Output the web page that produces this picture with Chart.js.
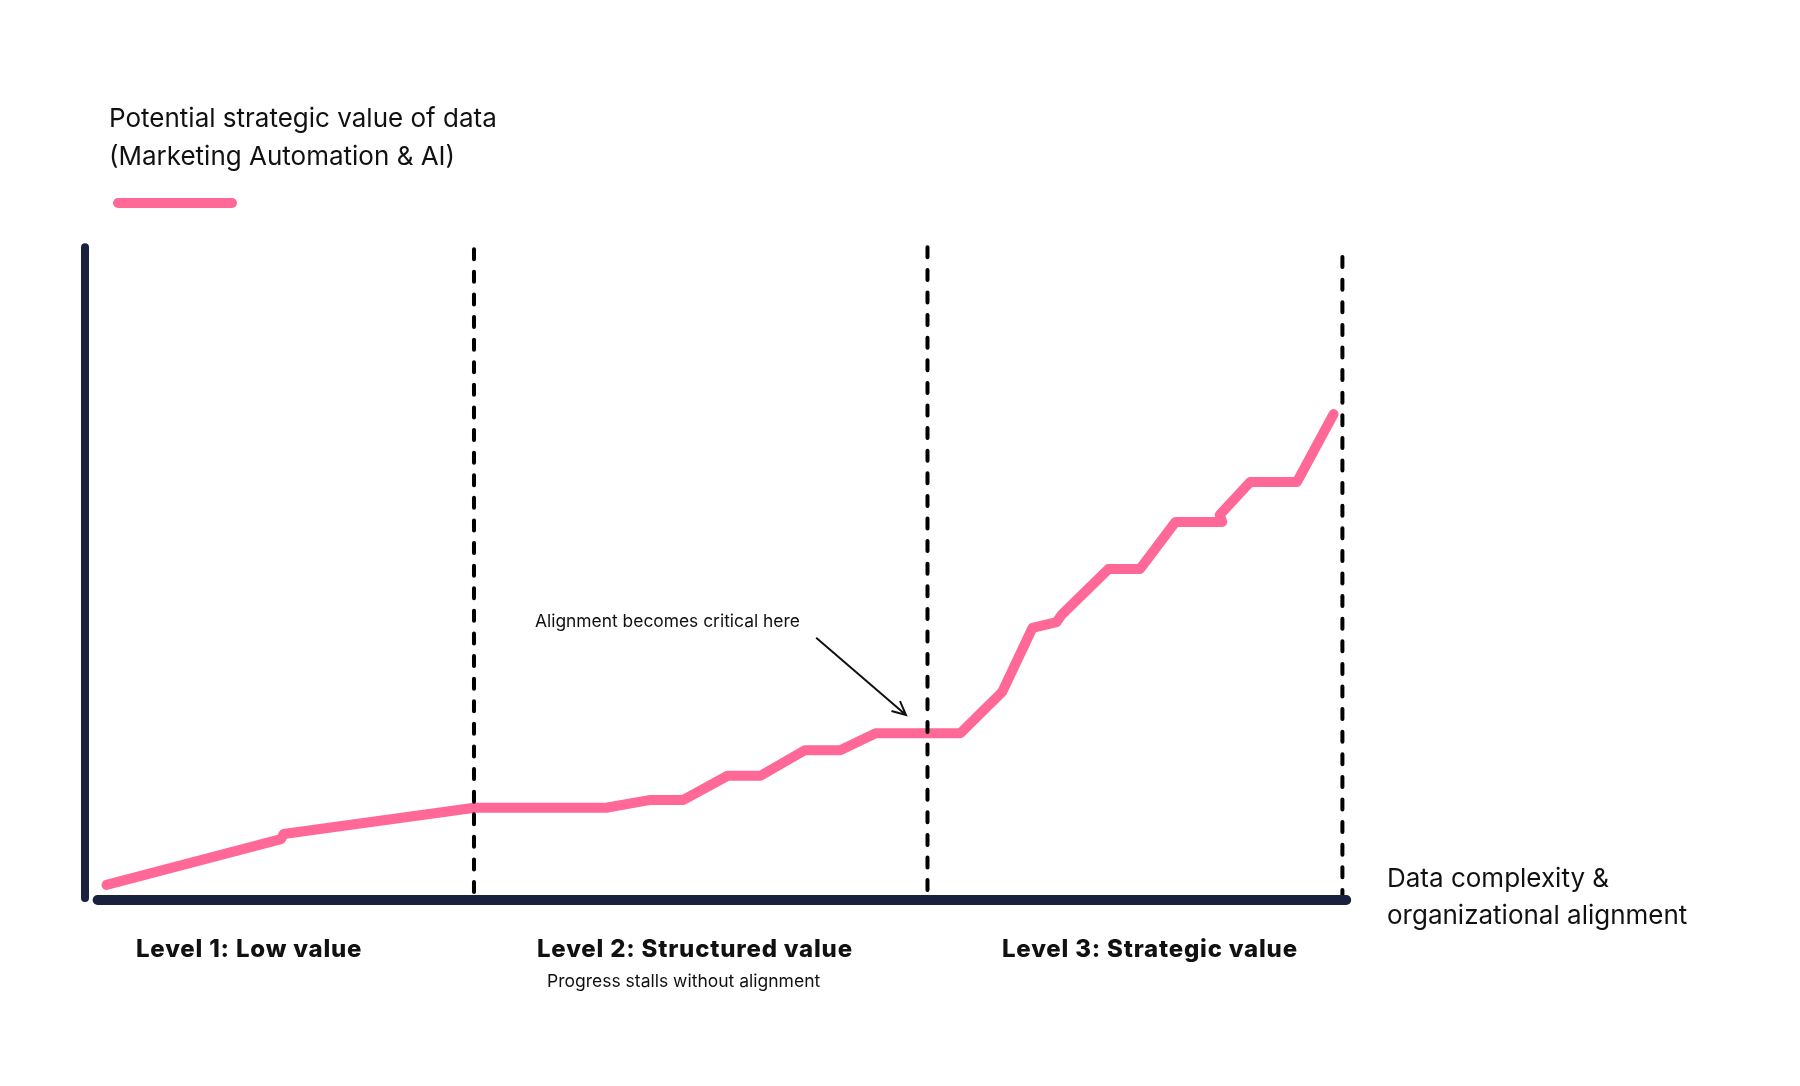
<!DOCTYPE html>
<html>
<head>
<meta charset="utf-8">
<title>Strategic value of data</title>
<script src="https://cdn.jsdelivr.net/npm/chart.js@4.4.1/dist/chart.umd.min.js"></script>
<style>
    html, body { margin: 0; padding: 0; background: #ffffff; }
    #wrap { width: 1800px; height: 1086px; }
</style>
</head>
<body>
<div id="wrap"><canvas id="canvas" width="1800" height="1086"></canvas></div>
<script>
// x = data complexity & alignment (0-100), y = potential strategic value (0-100)
var valueX = [1.7, 15.5, 15.7, 30.8, 41.2, 44.7, 47.3, 50.8, 53.4, 56.9, 59.7, 62.5, 69.2,
    72.5, 74.9, 76.8, 77.2, 80.9, 83.4, 86.2, 89.9, 89.7, 92.1, 95.8, 98.7];
var valueY = [2.3, 9.3, 10.1, 14.1, 14.1, 15.3, 15.3, 19.0, 19.0, 22.9, 22.9, 25.5, 25.5,
    31.8, 41.6, 42.5, 43.6, 50.6, 50.6, 57.8, 57.8, 58.9, 63.9, 63.9, 74.3];

// level boundaries (dashed verticals)
var boundaryX = [30.75, 66.6, 99.4];
var boundaryTop = [99.5, 99.8, 98.3];
var boundaryBottom = [1.2, 0.3, 0];

var levelLabels = ['Level 1: Low value', 'Level 2: Structured value', 'Level 3: Strategic value'];
var seriesName = ['Potential strategic value of data', '(Marketing Automation & AI)'];
var axisName = ['Data complexity &', 'organizational alignment'];
var stallNote = 'Progress stalls without alignment';
var alignNote = 'Alignment becomes critical here';

var PINK = '#ff6897';
var NAVY = '#19213f';
var INK = '#111111';

function toPoints(xs, ys) {
    var pts = [];
    for (var i = 0; i < xs.length; i++) {
        pts.push({x: xs[i], y: ys[i]});
    }
    return pts;
}

var datasets = [];
boundaryX.forEach(function (bx, i) {
    datasets.push({
        label: 'boundary ' + (i + 1),
        // drawn top-down so the dash pattern starts at the top
        data: [{x: bx, y: boundaryTop[i]}, {x: bx, y: boundaryBottom[i]}],
        borderColor: '#000000',
        borderWidth: 4,
        borderDash: [10, 12.6],
        borderCapStyle: 'round',
        pointRadius: 0,
        clip: false
    });
});
datasets.push({
    label: seriesName.join(' '),
    data: toPoints(valueX, valueY),
    borderColor: PINK,
    borderWidth: 10,
    borderCapStyle: 'round',
    borderJoinStyle: 'round',
    tension: 0,
    pointRadius: 0,
    clip: false
});

// axes, legend and all the text
var decorations = {
    id: 'decorations',
    afterDatasetsDraw: function (chart) {
        var ctx = chart.ctx;
        var xs = chart.scales.x;
        var ys = chart.scales.y;
        ctx.save();
        ctx.lineCap = 'round';

        // y axis
        ctx.strokeStyle = NAVY;
        ctx.lineWidth = 8;
        ctx.beginPath();
        ctx.moveTo(xs.getPixelForValue(0), ys.getPixelForValue(0.3));
        ctx.lineTo(xs.getPixelForValue(0), ys.getPixelForValue(99.8));
        ctx.stroke();

        // x axis
        ctx.lineWidth = 10;
        ctx.beginPath();
        ctx.moveTo(xs.getPixelForValue(1.0), ys.getPixelForValue(0));
        ctx.lineTo(xs.getPixelForValue(99.7), ys.getPixelForValue(0));
        ctx.stroke();

        // legend sample
        ctx.strokeStyle = PINK;
        ctx.lineWidth = 10;
        ctx.beginPath();
        ctx.moveTo(118, 203);
        ctx.lineTo(232, 203);
        ctx.stroke();

        ctx.fillStyle = INK;
        ctx.textBaseline = 'alphabetic';
        ctx.textAlign = 'left';

        ctx.font = '26px Inter';
        ctx.fillText(seriesName[0], 109, 127);
        ctx.fillText(seriesName[1], 109, 165);
        ctx.fillText(axisName[0], 1387, 887);
        ctx.fillText(axisName[1], 1387, 924);

        ctx.font = '800 24px Inter';
        ctx.letterSpacing = '0.8px';
        var levelX = [136, 537, 1002];
        levelLabels.forEach(function (t, i) {
            ctx.fillText(t, levelX[i], 957);
        });
        ctx.letterSpacing = '0px';

        ctx.font = '17.5px Inter';
        ctx.fillText(stallNote, 547, 987);

        ctx.font = '17.4px Inter';
        ctx.fillText(alignNote, 535, 627);

        // arrow to the stall point
        var ax0 = xs.getPixelForValue(57.8), ay0 = ys.getPixelForValue(40.1);
        var ax1 = xs.getPixelForValue(64.9), ay1 = ys.getPixelForValue(28.3);
        var ang = Math.atan2(ay1 - ay0, ax1 - ax0);
        ctx.strokeStyle = INK;
        ctx.lineWidth = 2;
        ctx.lineCap = 'butt';
        ctx.beginPath();
        ctx.moveTo(ax0, ay0);
        ctx.lineTo(ax1, ay1);
        ctx.moveTo(ax1 - 15 * Math.cos(ang - 0.45), ay1 - 15 * Math.sin(ang - 0.45));
        ctx.lineTo(ax1, ay1);
        ctx.lineTo(ax1 - 15 * Math.cos(ang + 0.45), ay1 - 15 * Math.sin(ang + 0.45));
        ctx.stroke();

        ctx.restore();
    }
};

var chart = new Chart(document.getElementById('canvas'), {
    type: 'line',
    data: {datasets: datasets},
    options: {
        responsive: false,
        devicePixelRatio: 1,
        animation: false,
        layout: {
            padding: {left: 85, right: 450, top: 246, bottom: 186}
        },
        scales: {
            x: {type: 'linear', min: 0, max: 100, display: false},
            y: {type: 'linear', min: 0, max: 100, display: false}
        },
        plugins: {
            legend: {display: false},
            title: {display: false},
            tooltip: {enabled: false}
        }
    },
    plugins: [decorations]
});
</script>
</body>
</html>
